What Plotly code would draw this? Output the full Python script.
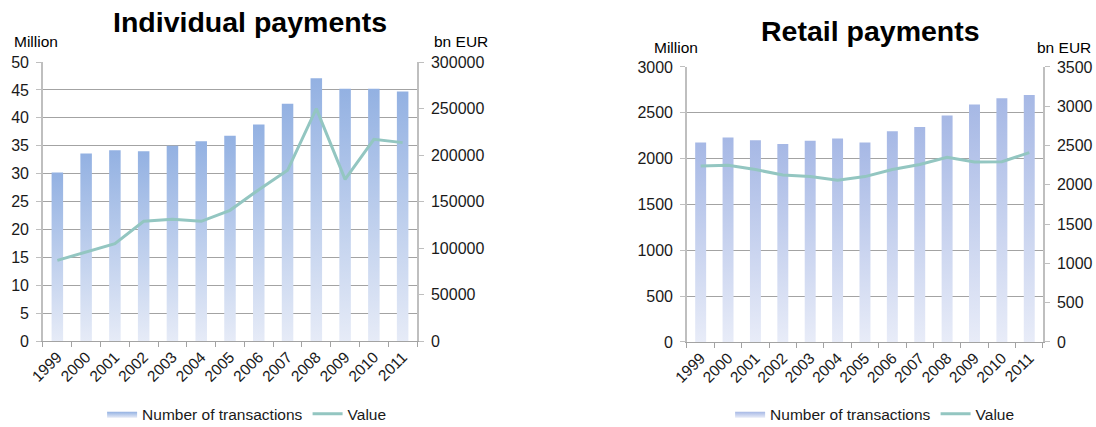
import plotly.graph_objects as go

years = [str(y) for y in range(1999, 2012)]
ind_transactions = [30.2, 33.6, 34.2, 34.0, 35.0, 35.8, 36.8, 38.8, 42.5, 47.1, 45.2, 45.2, 44.7]
ind_value = [86700, 95700, 104700, 128700, 130800, 128700, 140500, 162700, 183500, 249800, 173800, 216800, 213300]
ret_transactions = [2175, 2230, 2200, 2160, 2195, 2220, 2175, 2300, 2345, 2470, 2590, 2660, 2695]
ret_value = [2240, 2250, 2195, 2125, 2105, 2060, 2105, 2195, 2260, 2350, 2290, 2295, 2410]

FONT = "Liberation Sans, Arial, sans-serif"
TXT = "#1a1a1a"
GRID = "#A3A3A3"
AXL = "#BFBFBF"
LINE_C = "#93C6C1"
BAR_W = 0.4

fig = go.Figure()


def add_bars(values, xa, ya, legend, top, bottom):
    for i, v in enumerate(values):
        x0, x1 = i - BAR_W / 2, i + BAR_W / 2
        fig.add_trace(go.Scatter(
            x=[x0, x1, x1, x0, x0], y=[0, 0, v, v, 0],
            mode="lines", fill="toself", line=dict(width=0, color=top),
            fillgradient=dict(type="vertical", colorscale=[[0, bottom], [1, top]]),
            xaxis=xa, yaxis=ya, name="Number of transactions",
            legendgroup=legend + "bars", showlegend=(i == 0), legend=legend,
            hoverinfo="skip"))


add_bars(ind_transactions, "x", "y", "legend", "#93B1E2", "#E6EBF7")
fig.add_trace(go.Scatter(x=list(range(len(years))), y=ind_value, mode="lines",
                         line=dict(color=LINE_C, width=3), name="Value",
                         xaxis="x", yaxis="y2", legend="legend"))
add_bars(ret_transactions, "x2", "y3", "legend2", "#A6B8E5", "#E8ECF8")
fig.add_trace(go.Scatter(x=list(range(len(years))), y=ret_value, mode="lines",
                         line=dict(color=LINE_C, width=3), name="Value",
                         xaxis="x2", yaxis="y4", legend="legend2"))

tickfont = dict(family=FONT, size=16, color=TXT)
xtickfont = dict(family=FONT, size=15.5, color=TXT)


def xax(domain, anchor):
    return dict(domain=domain, anchor=anchor, range=[-0.5, 12.5], automargin=False,
                tickmode="array", tickvals=list(range(len(years))), ticktext=years,
                tickangle=-45, ticks="", showgrid=False, zeroline=False,
                showline=True, linecolor=GRID, linewidth=1, tickfont=xtickfont,
                minor=dict(tickmode="array", tickvals=[i - 0.5 for i in range(len(years) + 1)],
                           ticks="outside", ticklen=5, tickcolor=GRID, showgrid=False))


def yax(domain, anchor, rng, dtick, side="left", overlaying=None, grid=True):
    d = dict(domain=domain, anchor=anchor, range=rng, dtick=dtick, tick0=0, automargin=False,
             side=side, showgrid=grid, gridcolor=GRID, gridwidth=1, zeroline=False,
             showline=True, linecolor=AXL, linewidth=1.5, ticks="outside", ticklen=5,
             tickcolor=AXL, tickfont=tickfont, tickformat="d", ticklabelstandoff=4)
    if overlaying:
        d["overlaying"] = overlaying
    return d


ydom1 = [0.2014, 0.8548]
ydom2 = [0.1991, 0.8431]
fig.update_layout(
    width=1096, height=427, margin=dict(l=0, r=0, t=0, b=0, autoexpand=False),
    paper_bgcolor="white", plot_bgcolor="white",
    font=dict(family=FONT, color=TXT),
    xaxis=xax([0.0392, 0.3805], "y"),
    yaxis=yax(ydom1, "x", [0, 50], 5),
    yaxis2=yax(ydom1, "x", [0, 300000], 50000, side="right", overlaying="y", grid=False),
    xaxis2=xax([0.6268, 0.9516], "y3"),
    yaxis3=yax(ydom2, "x2", [0, 3000], 500),
    yaxis4=yax(ydom2, "x2", [0, 3500], 500, side="right", overlaying="y3", grid=False),
    legend=dict(orientation="h", x=0.225, y=0.03, xanchor="center", yanchor="middle",
                font=dict(family=FONT, size=15.5, color=TXT), bgcolor="rgba(0,0,0,0)"),
    legend2=dict(orientation="h", x=0.798, y=0.03, xanchor="center", yanchor="middle",
                 font=dict(family=FONT, size=15.5, color=TXT), bgcolor="rgba(0,0,0,0)"),
)

ann = [
    dict(text="<b>Individual payments</b>", x=0.228, y=0.948, size=28.5, xanchor="center"),
    dict(text="<b>Retail payments</b>", x=0.794, y=0.927, size=28.5, xanchor="center"),
    dict(text="Million", x=12 / 1096, y=0.902, size=15.5, xanchor="left"),
    dict(text="bn EUR", x=432 / 1096, y=0.902, size=15.5, xanchor="left"),
    dict(text="Million", x=652 / 1096, y=0.888, size=15.5, xanchor="left"),
    dict(text="bn EUR", x=1093 / 1096, y=0.888, size=15.5, xanchor="right"),
]
for a in ann:
    fig.add_annotation(text=a["text"], x=a["x"], y=a["y"], xref="paper", yref="paper",
                       xanchor=a["xanchor"], yanchor="middle", showarrow=False,
                       font=dict(family=FONT, size=a["size"], color="#000000"))

fig.write_html("out.html", config={"displayModeBar": False},
               post_script="document.body.style.margin='0';")
